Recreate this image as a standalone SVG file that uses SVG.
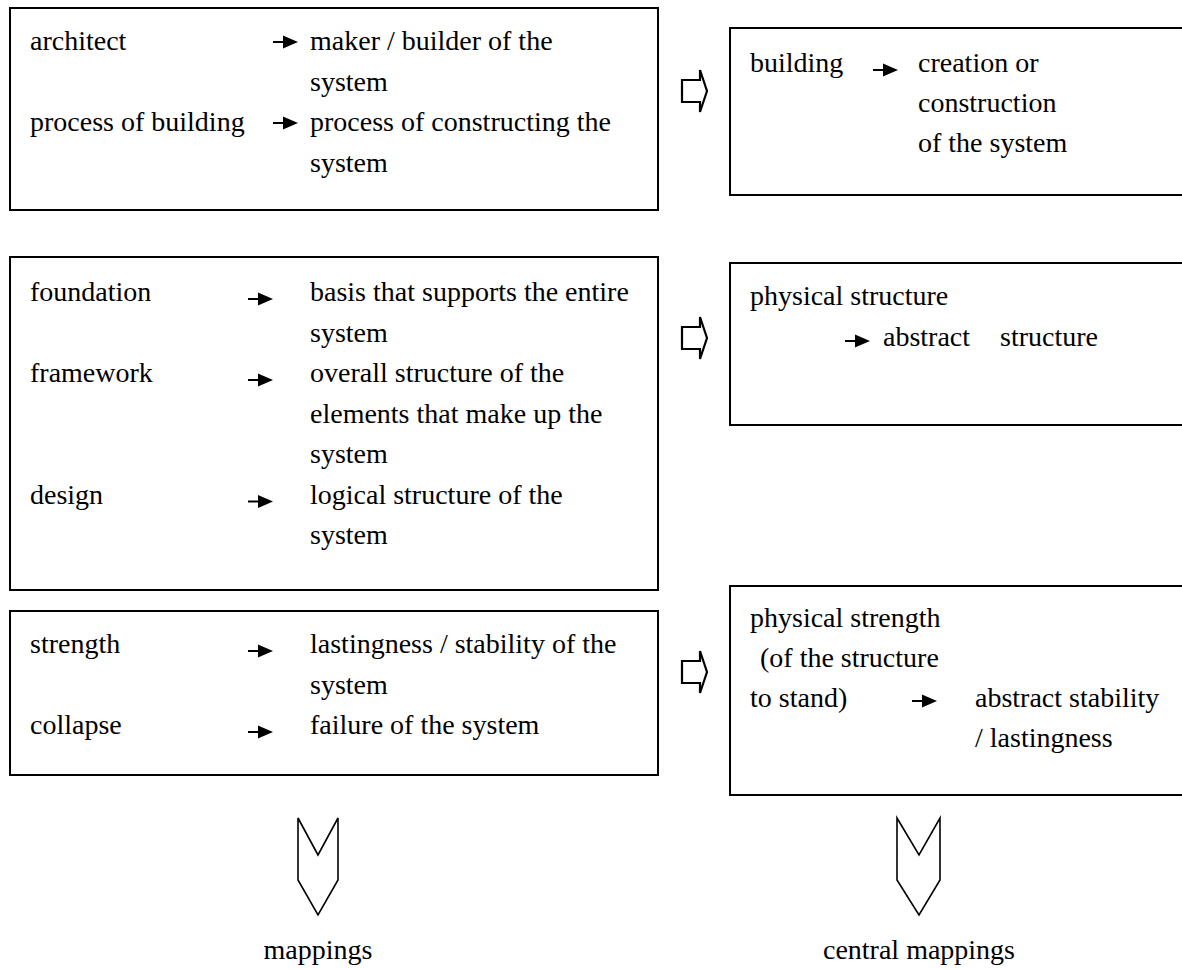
<svg xmlns="http://www.w3.org/2000/svg" width="1182" height="969" viewBox="0 0 1182 969">
<style>
.box{fill:#fff;stroke:#000;stroke-width:2}
text{font-size:28px;fill:#000}
.hol{fill:#fff;stroke:#000;stroke-width:2.2;stroke-linejoin:miter}
.chev{fill:#fff;stroke:#000;stroke-width:1.6;stroke-linejoin:miter}
</style>
<defs>
<g id="arw"><line x1="0" y1="0" x2="12" y2="0" stroke="#000" stroke-width="2"/><polygon points="10,-6.5 25,0 10,6.5" fill="#000"/></g>
</defs>
<rect width="1182" height="969" fill="#fff"/>

<g id="box1" font-family="'Liberation Serif', serif">
<rect class="box" x="10" y="8" width="648" height="202"/>
<text x="30" y="50">architect</text>
<use href="#arw" x="273" y="42"/>
<text x="310" y="50">maker / builder of the</text>
<text x="310" y="90.5">system</text>
<text x="30" y="131">process of building</text>
<use href="#arw" x="273" y="123"/>
<text x="310" y="131">process of constructing the</text>
<text x="310" y="171.5">system</text>
</g>

<g id="box2" font-family="'Liberation Serif', serif">
<rect class="box" x="730" y="28" width="460" height="167"/>
<text x="750" y="72">building</text>
<use href="#arw" x="873" y="70"/>
<text x="918" y="72">creation or</text>
<text x="918" y="112">construction</text>
<text x="918" y="152">of the system</text>
</g>

<g id="box3" font-family="'Liberation Serif', serif">
<rect class="box" x="10" y="257" width="648" height="333"/>
<text x="30" y="301">foundation</text>
<use href="#arw" x="248" y="299"/>
<text x="310" y="301">basis that supports the entire</text>
<text x="310" y="341.5">system</text>
<text x="30" y="382">framework</text>
<use href="#arw" x="248" y="380"/>
<text x="310" y="382">overall structure of the</text>
<text x="310" y="422.5">elements that make up the</text>
<text x="310" y="463">system</text>
<text x="30" y="503.5">design</text>
<use href="#arw" x="248" y="501.5"/>
<text x="310" y="503.5">logical structure of the</text>
<text x="310" y="544">system</text>
</g>

<g id="box4" font-family="'Liberation Serif', serif">
<rect class="box" x="730" y="263" width="460" height="162"/>
<text x="750" y="305">physical structure</text>
<use href="#arw" x="845" y="341"/>
<text x="883" y="345.5">abstract</text>
<text x="1000" y="345.5">structure</text>
</g>

<g id="box5" font-family="'Liberation Serif', serif">
<rect class="box" x="10" y="611" width="648" height="164"/>
<text x="30" y="653">strength</text>
<use href="#arw" x="248" y="651"/>
<text x="310" y="653">lastingness / stability of the</text>
<text x="310" y="693.5">system</text>
<text x="30" y="734">collapse</text>
<use href="#arw" x="248" y="732"/>
<text x="310" y="734">failure of the system</text>
</g>

<g id="box6" font-family="'Liberation Serif', serif">
<rect class="box" x="730" y="586" width="460" height="209"/>
<text x="750" y="627">physical strength</text>
<text x="760" y="667">(of the structure</text>
<text x="750" y="707">to stand)</text>
<use href="#arw" x="912" y="701"/>
<text x="975" y="707">abstract stability</text>
<text x="975" y="747">/ lastingness</text>
</g>

<g id="labels" font-family="'Liberation Serif', serif">
<text x="318" y="959" text-anchor="middle">mappings</text>
<text x="919" y="959" text-anchor="middle">central mappings</text>
</g>

<g id="connectors">
<path class="hol" d="M682,80 H700 V70 L707,91 L700,112 V102 H682 Z"/>
<path class="hol" d="M682,327 H700 V317 L707,338 L700,359 V349 H682 Z"/>
<path class="hol" d="M682,661 H700 V651 L707,672 L700,693 V683 H682 Z"/>
<path class="chev" d="M298,818 L318,855 L338,818 V880 L318,915 L298,880 Z"/>
<path class="chev" d="M897,818 L919,855 L940,818 V880 L919,915 L897,880 Z"/>
</g>
</svg>
